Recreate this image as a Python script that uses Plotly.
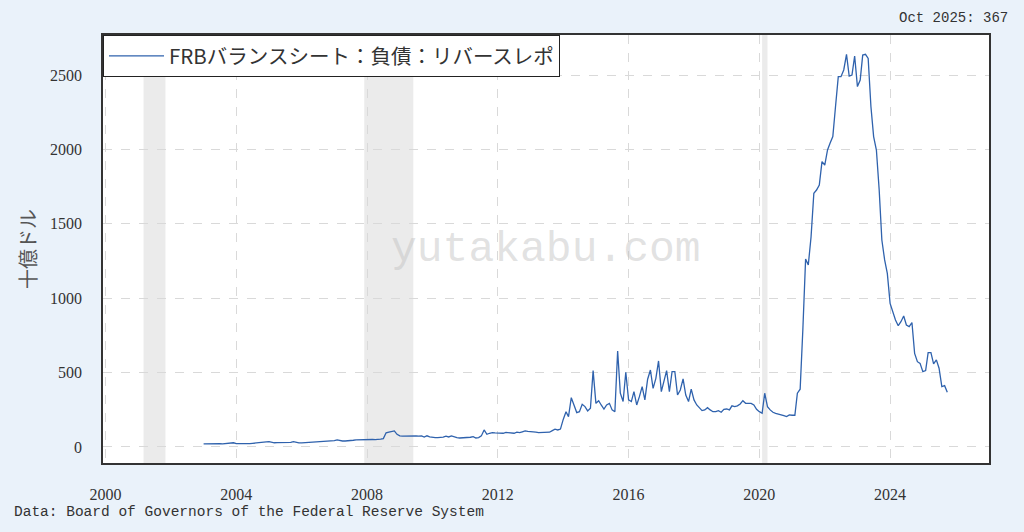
import pandas as pd
import plotly.graph_objects as go

# =====================================================
# Data (monthly, billions of dollars)
# =====================================================

START_MONTH = "2003-01-01"

rrp_2003_2007 = [
    20, 21, 21, 22, 22, 22, 22, 21, 22, 21, 22, 28,
    22, 21, 22, 21, 23, 22, 24, 25, 28, 30, 32, 34,
    36, 29, 28, 29, 29, 29, 30, 30, 30, 36, 31, 27,
    27, 28, 29, 30, 31, 33, 34, 35, 36, 37, 38, 40,
    42, 47, 43, 40, 40, 40, 42, 45, 48, 49, 49, 51,
]

rrp_2008_2012 = [
    52, 51, 50, 49, 49, 52, 56, 95, 100, 105, 108, 85,
    74, 73, 74, 75, 76, 74, 74, 73, 74, 66, 75, 68,
    63, 62, 63, 63, 66, 72, 67, 74, 66, 62, 60, 61,
    60, 62, 65, 69, 60, 63, 74, 114, 85, 92, 96, 94,
    92, 94, 92, 98, 96, 94, 92, 99, 96, 102, 108, 104,
]

rrp_2013_2017 = [
    103, 103, 100, 96, 96, 96, 98, 99, 110, 119, 114, 120,
    185, 237, 204, 331, 282, 231, 237, 287, 271, 242, 260, 513,
    293, 311, 282, 255, 282, 293, 249, 237, 645, 361, 305, 502,
    316, 305, 372, 282, 338, 405, 316, 455, 517, 394, 461, 578,
    372, 450, 513, 372, 506, 506, 349, 383, 457, 349, 305, 388,
]

rrp_2018_2022 = [
    316, 282, 260, 244, 249, 264, 249, 237, 237, 244, 233, 253,
    255, 249, 276, 271, 276, 289, 311, 293, 293, 293, 282, 253,
    237, 226, 361, 271, 249, 233, 226, 222, 220, 211, 204, 215,
    213, 213, 361, 388, 786, 1263, 1223, 1413, 1705, 1727, 1761, 1918,
    1895, 1996, 2041, 2086, 2287, 2489, 2489, 2534, 2639, 2493, 2500, 2628,
]

rrp_2023_2025 = [
    2422, 2466, 2634, 2639, 2612, 2287, 2086, 1996, 1727, 1391, 1257, 1167,
    965, 898, 853, 815, 842, 880, 820, 809, 836, 629, 573, 562,
    506, 513, 634, 634, 558, 585, 529, 405, 412, 367,
]

# NBER recessions (start, end)
recession_starts = ["2001-03-01", "2007-12-01", "2020-02-01"]
recession_ends = ["2001-11-01", "2009-06-01", "2020-04-01"]

x_tick_years = ["2000", "2004", "2008", "2012", "2016", "2020", "2024"]
y_tick_values = [0, 500, 1000, 1500, 2000, 2500]

SERIES_NAME = "FRBバランスシート：負債：リバースレポ"
SOURCE_TEXT = "Data: Board of Governors of the Federal Reserve System"

values = (
    rrp_2003_2007
    + rrp_2008_2012
    + rrp_2013_2017
    + rrp_2018_2022
    + rrp_2023_2025
)

dates = pd.date_range(START_MONTH, periods=len(values), freq="MS")

last_label = f"{dates[-1].strftime('%b %Y')}: {values[-1]}"

SERIF = "Liberation Serif, DejaVu Serif, serif"
TICK_FONT = dict(family=SERIF, size=16, color="#333333")

# =====================================================
# Figure
# =====================================================

fig = go.Figure()

fig.add_trace(
    go.Scatter(
        x=dates,
        y=values,
        mode="lines",
        name=SERIES_NAME,
        line=dict(color="#2f62ad", width=1.3),
    )
)

# recession shading
for start, end in zip(recession_starts, recession_ends):
    fig.add_shape(
        type="rect",
        xref="x",
        yref="paper",
        x0=start,
        x1=end,
        y0=0,
        y1=1,
        fillcolor="#ebebeb",
        line=dict(width=0),
        layer="below",
    )

# =====================================================
# Annotations (paper coords are relative to the plot area)
# =====================================================

fig.add_annotation(
    text="yutakabu.com",
    x=0.5,
    y=0.5,
    xref="paper",
    yref="paper",
    showarrow=False,
    font=dict(family="Liberation Mono", size=43, color="rgba(190,190,190,0.45)"),
)

fig.add_annotation(
    text=last_label,
    x=1.024,
    y=1.04,
    xref="paper",
    yref="paper",
    xanchor="right",
    yanchor="middle",
    showarrow=False,
    font=dict(family="Liberation Mono", size=14, color="#333333"),
)

fig.add_annotation(
    text=SOURCE_TEXT,
    x=-0.103,
    y=-0.114,
    xref="paper",
    yref="paper",
    xanchor="left",
    yanchor="middle",
    showarrow=False,
    font=dict(family="Liberation Mono", size=14.5, color="#333333"),
)

# =====================================================
# Layout
# =====================================================

fig.update_layout(
    width=1024,
    height=532,
    paper_bgcolor="#eaf2fa",
    plot_bgcolor="#ffffff",
    margin=dict(l=103, r=35, t=35, b=69),
    font=dict(family=SERIF, size=16, color="#333333"),
    showlegend=True,
    legend=dict(
        x=0,
        y=1,
        xanchor="left",
        yanchor="top",
        bgcolor="#ffffff",
        bordercolor="#222222",
        borderwidth=1,
        itemwidth=55,
        font=dict(family="Noto Sans CJK JP", size=20.5, color="#333333"),
    ),
)

fig.update_xaxes(
    type="date",
    range=["1999-12-04", "2027-01-10"],
    tickvals=[f"{y}-01-01" for y in x_tick_years],
    ticktext=x_tick_years,
    tickfont=TICK_FONT,
    showgrid=True,
    gridcolor="#d9d9d9",
    griddash="dash",
    gridwidth=1,
    showline=True,
    linecolor="#333333",
    linewidth=1.5,
    mirror=True,
    ticks="",
    ticklabelstandoff=16,
    zeroline=False,
)

fig.update_yaxes(
    range=[-108, 2769],
    tickvals=y_tick_values,
    tickfont=TICK_FONT,
    showgrid=True,
    gridcolor="#d9d9d9",
    griddash="dash",
    gridwidth=1,
    showline=True,
    linecolor="#333333",
    linewidth=1.5,
    mirror=True,
    ticks="",
    ticklabelstandoff=16,
    zeroline=False,
    title=dict(
        text="十億ドル",
        font=dict(family="Noto Sans CJK JP", size=20, color="#555555"),
        standoff=8,
    ),
)

fig.write_html(
    "out.html",
    config={"displayModeBar": False},
    post_script="document.body.style.margin = '0';",
)
